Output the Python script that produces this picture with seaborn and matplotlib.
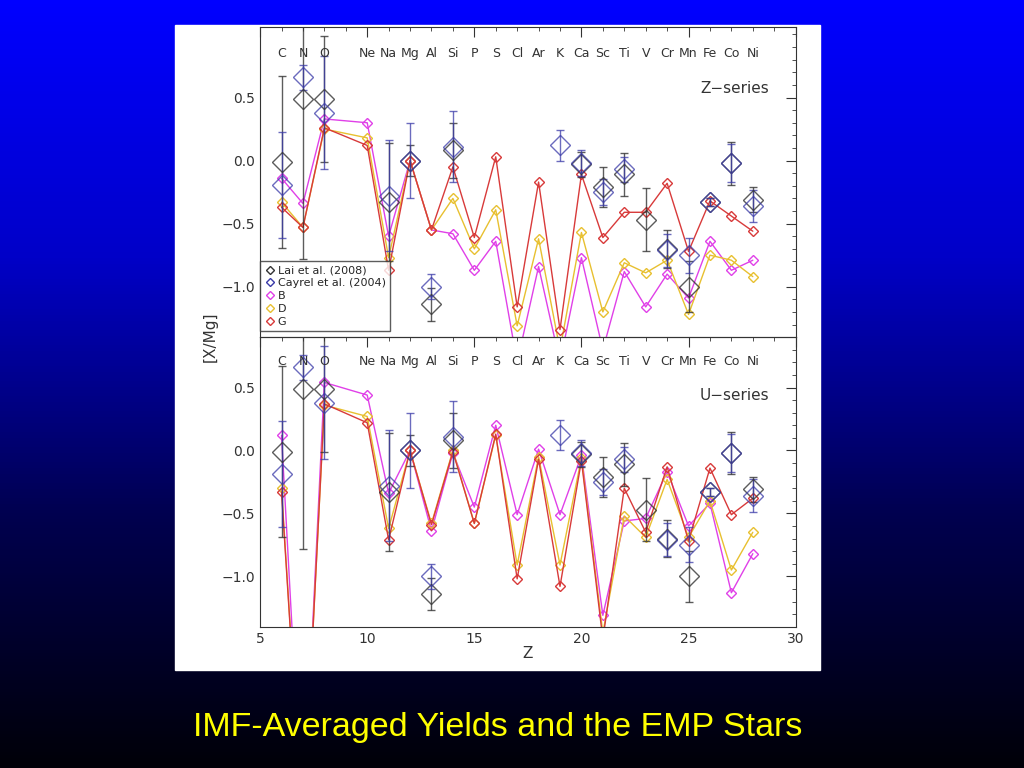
import numpy as np
import pandas as pd
import matplotlib
matplotlib.use("Agg")
import matplotlib.pyplot as plt
from matplotlib.ticker import MultipleLocator, FixedLocator
from matplotlib.lines import Line2D
import seaborn as sns

# ── Data ──────────────────────────────────────────────────────────────────────
ELEMENTS = ["C", "N", "O", "Ne", "Na", "Mg", "Al", "Si", "P", "S", "Cl", "Ar",
            "K", "Ca", "Sc", "Ti", "V", "Cr", "Mn", "Fe", "Co", "Ni"]
Z_MODEL = [6, 7, 8, 10, 11, 12, 13, 14, 15, 16, 17, 18,
           19, 20, 21, 22, 23, 24, 25, 26, 27, 28]

Z_B = [-0.14, -0.34, 0.33, 0.30, -0.60, 0.0, -0.55, -0.58, -0.87, -0.64, -1.6, -0.84,
       -1.6, -0.77, -1.5, -0.88, -1.16, -0.90, -1.09, -0.64, -0.87, -0.79]
Z_D = [-0.33, -0.53, 0.25, 0.18, -0.77, 0.0, -0.55, -0.30, -0.70, -0.39, -1.31, -0.62,
       -1.5, -0.57, -1.20, -0.81, -0.89, -0.79, -1.22, -0.75, -0.79, -0.92]
Z_G = [-0.37, -0.53, 0.26, 0.12, -0.87, 0.0, -0.55, -0.05, -0.61, 0.03, -1.16, -0.17,
       -1.34, -0.11, -0.61, -0.41, -0.41, -0.18, -0.72, -0.32, -0.44, -0.56]

U_B = [0.12, -3.0, 0.54, 0.44, -0.34, 0.0, -0.64, -0.02, -0.45, 0.20, -0.51, 0.01,
       -0.51, -0.04, -1.31, -0.56, -0.54, -0.17, -0.60, -0.42, -1.13, -0.82]
U_D = [-0.30, -3.0, 0.36, 0.27, -0.62, 0.0, -0.58, 0.0, -0.58, 0.12, -0.91, -0.05,
       -0.91, -0.06, -1.45, -0.52, -0.69, -0.23, -0.69, -0.40, -0.95, -0.65]
U_G = [-0.33, -3.0, 0.37, 0.22, -0.71, 0.0, -0.59, -0.01, -0.58, 0.13, -1.02, -0.07,
       -1.08, -0.08, -1.5, -0.30, -0.65, -0.13, -0.72, -0.14, -0.51, -0.38]

LAI_Z = [6, 7, 8, 11, 12, 13, 14, 20, 21, 22, 23, 24, 25, 26, 27, 28]
LAI_Y = [-0.01, 0.49, 0.49, -0.33, 0.0, -1.14, 0.08, -0.03, -0.21, -0.11,
         -0.47, -0.70, -1.00, -0.33, -0.02, -0.31]
LAI_E = [0.68, 1.27, 0.50, 0.47, 0.12, 0.13, 0.22, 0.10, 0.16, 0.17,
         0.25, 0.15, 0.20, 0.03, 0.17, 0.10]

CAY_Z = [6, 7, 8, 11, 12, 13, 14, 19, 20, 21, 22, 24, 25, 26, 27, 28]
CAY_Y = [-0.19, 0.66, 0.38, -0.28, 0.0, -1.00, 0.11, 0.12, -0.02, -0.25,
         -0.07, -0.71, -0.75, -0.33, -0.02, -0.36]
CAY_E = [0.42, 0.10, 0.45, 0.44, 0.30, 0.10, 0.28, 0.12, 0.10, 0.10,
         0.10, 0.13, 0.14, 0.03, 0.15, 0.13]

Y_TICKS = [-1.0, -0.5, 0.0, 0.5]

COLORS = {"Lai": "#333333", "Cayrel": "#3a3aa8", "B": "#e040e8",
          "D": "#e8c030", "G": "#d83a3a"}

# ── Figure ────────────────────────────────────────────────────────────────────
sns.set_style("white")
fig = plt.figure(figsize=(10.24, 7.68), dpi=100)

bg = fig.add_axes([0, 0, 1, 1])
grad = np.linspace(0, 1, 256)[:, None]
bg.imshow(grad, aspect="auto", cmap=matplotlib.colors.LinearSegmentedColormap.from_list(
    "bg", ["#0000ff", "#0000c8", "#000050", "#000008"]), extent=[0, 1, 0, 1])
bg.set_axis_off()
bg.add_patch(plt.Rectangle((0.171, 0.128), 0.63, 0.84, color="white",
                           transform=bg.transAxes))
bg.text(0.486, 0.053, "IMF-Averaged Yields and the EMP Stars", color="#ffff00",
        fontsize=24.5, ha="center", va="center", family="Liberation Sans")

ax_top = fig.add_axes([0.254, 0.561, 0.523, 0.404])
ax_bot = fig.add_axes([0.254, 0.184, 0.523, 0.377])


def draw_panel(ax, b, d, g, label, ylim):
    for name, vals in (("B", b), ("D", d), ("G", g)):
        df = pd.DataFrame({"Z": Z_MODEL, "y": vals})
        sns.lineplot(data=df, x="Z", y="y", ax=ax, sort=False, color=COLORS[name],
                     marker="D", markersize=5, mfc="none", mec=COLORS[name],
                     mew=1.0, linewidth=1.0)
    ax.errorbar(LAI_Z, LAI_Y, yerr=LAI_E, fmt="D", ms=10, mfc="none",
                mec=COLORS["Lai"], ecolor=COLORS["Lai"], elinewidth=1, capsize=3,
                alpha=0.8)
    ax.errorbar(CAY_Z, CAY_Y, yerr=CAY_E, fmt="D", ms=10, mfc="none",
                mec=COLORS["Cayrel"], ecolor=COLORS["Cayrel"], elinewidth=1,
                capsize=3, alpha=0.75)
    for z, el in zip(Z_MODEL, ELEMENTS):
        ax.text(z, 0.915, el, transform=ax.get_xaxis_transform(), ha="center",
                va="center", fontsize=9, color="#333333")
    ax.text(0.95, 0.8, label, transform=ax.transAxes, ha="right", va="center",
            fontsize=11, color="#333333")
    ax.set_xlim(5, 30)
    ax.set_ylim(*ylim)
    ax.xaxis.set_major_locator(MultipleLocator(5))
    ax.xaxis.set_minor_locator(MultipleLocator(1))
    ax.yaxis.set_major_locator(FixedLocator(Y_TICKS))
    ax.yaxis.set_minor_locator(MultipleLocator(0.1))
    ax.tick_params(which="both", direction="in", top=True, right=True,
                   colors="#333333", labelsize=10)
    ax.tick_params(which="major", length=7)
    ax.tick_params(which="minor", length=3)
    for sp in ax.spines.values():
        sp.set_color("#333333")
    ax.set_xlabel("")
    ax.set_ylabel("")
    ax.set_facecolor("none")


draw_panel(ax_top, Z_B, Z_D, Z_G, "Z−series", (-1.40, 1.06))
draw_panel(ax_bot, U_B, U_D, U_G, "U−series", (-1.40, 0.90))
ax_top.set_xticklabels([])
ax_bot.set_xlabel("Z", fontsize=11, color="#333333", labelpad=0)
fig.text(0.205, 0.561, "[X/Mg]", rotation=90, ha="center", va="center",
         fontsize=11, color="#333333")

handles = [Line2D([], [], ls="none", marker="D", ms=4, mfc="none", mec=COLORS[k])
           for k in ("Lai", "Cayrel", "B", "D", "G")]
labels = ["Lai et al. (2008)", "Cayrel et al. (2004)", "B", "D", "G"]
ax_top.legend(handles, labels, loc="lower left", fontsize=8, frameon=True,
              fancybox=False, edgecolor="#333333", handletextpad=0.2,
              borderaxespad=0.0, labelspacing=0.25, handlelength=1.0,
              bbox_to_anchor=(0.0, 0.02))

fig.savefig("out.png", dpi=100)
